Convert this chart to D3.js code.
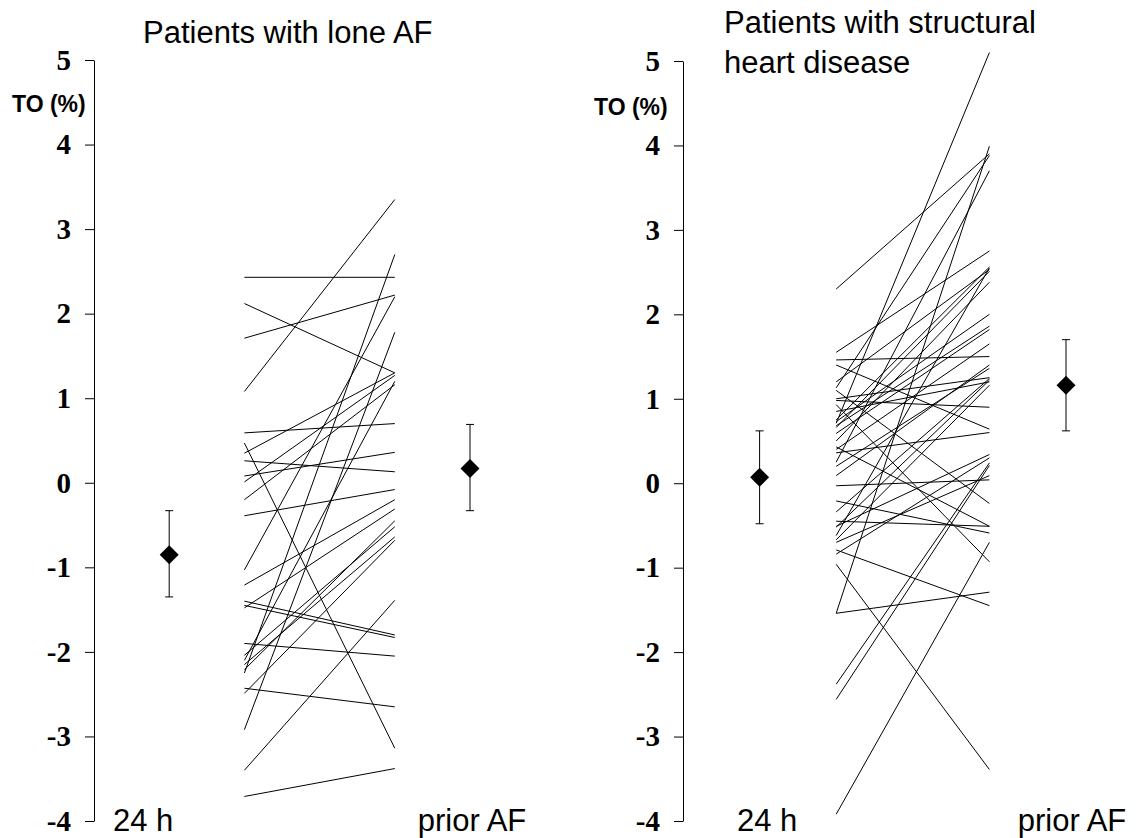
<!DOCTYPE html>
<html>
<head>
<meta charset="utf-8">
<script src="https://cdn.jsdelivr.net/npm/d3@7/dist/d3.min.js"></script>
<style>
  body { margin: 0; background: #fff; }
  svg { display: block; }
</style>
</head>
<body>
<div class="chart-container"></div>
<script>
(function(){
    // tick values of the TO axis
    const yTicks = [5, 4, 3, 2, 1, 0, -1, -2, -3, -4];
    const groupNames = ['24 h', 'prior AF'];

    // lone AF: each patient, TO at 24 h and TO prior AF
    const lone24h  = [2.43, 2.12, 1.71, 1.08, 0.59, 0.47, 0.35, 0.26, 0.08, 0.01, -0.20, -0.39, -1.03, -1.21,
                      -1.40, -1.45, -1.48, -1.90, -2.04, -2.10, -2.15, -2.21, -2.25, -2.43, -2.49, -2.92, -3.40, -3.71];
    const lonePrior = [2.43, 1.30, 2.22, 3.35, 0.70, -3.14, 1.30, 0.13, 0.36, 1.27, 1.16, -0.08, 2.20, -0.20,
                      -1.80, -1.83, -0.31, -2.05, -0.52, 1.20, -0.64, -0.45, 2.70, -2.65, -0.68, 1.78, -1.39, -3.38];
    const loneMean = [-0.85, 0.17];
    const loneLow  = [-1.35, -0.33];
    const loneHigh = [-0.33, 0.69];

    // structural heart disease
    const shd24h  = [2.30, 1.55, 1.46, 1.40, 1.20, 1.13, 1.10, 0.98, 0.93, 0.75, 0.73, 0.71, 0.68, 0.66,
                     0.59, 0.50, 0.43, 0.40, 0.36, 0.25, 0.20, 0.09, -0.03, -0.21, -0.34, -0.51, -0.52, -0.62,
                     -0.67, -0.70, -0.79, -0.84, -0.96, -1.54, -1.54, -2.38, -2.56, -3.92, 1.00, 0.85, -0.45];
    const shdPrior = [3.90, 2.75, 1.50, 0.64, 2.53, 3.88, -0.24, 0.90, -0.93, 2.56, 2.00, 5.10, 1.86, 2.51,
                     1.82, 2.38, -0.51, 1.65, 0.60, 3.70, 1.36, 1.40, 0.04, -0.59, 1.24, 0.34, 1.22, 2.55,
                     1.16, 0.09, -1.45, 0.30, -3.39, 3.99, -1.29, 0.24, 0.21, -0.70, 1.25, 1.20, -0.51];
    const shdMean = [0.07, 1.16];
    const shdLow  = [-0.48, 0.62];
    const shdHigh = [0.62, 1.70];

    const svg_width = 1144;
    const svg_height = 838;
    const sans = '"Liberation Sans", Arial, sans-serif';

    const panels = [
        {
            title: ['Patients with lone AF'], titleX: 143, titleY: [43],
            xRange: [94, 470], yRange: [821, 60], yLabelX: 12, yLabelY: 112,
            catX: [113, 472], catAnchor: ['start', 'middle'], catY: 831,
            start: lone24h, end: lonePrior, mean: loneMean, low: loneLow, high: loneHigh
        },
        {
            title: ['Patients with structural', 'heart disease'], titleX: 724, titleY: [33, 73],
            xRange: [683, 1066], yRange: [821, 61], yLabelX: 594, yLabelY: 115,
            catX: [737, 1072], catAnchor: ['start', 'middle'], catY: 831,
            start: shd24h, end: shdPrior, mean: shdMean, low: shdLow, high: shdHigh
        }
    ];

    const svg = d3.select('.chart-container').append('svg')
        .attr('width', svg_width).attr('height', svg_height);

    function drawPanel(p) {
        const g = svg.append('g');
        // x positions: 0 axis, 1 mean 24h, 2..4 paired lines, 5 mean prior AF
        const xScale = d3.scaleLinear().domain([0, 5]).range(p.xRange);
        const yScale = d3.scaleLinear().domain([-4, 5]).range(p.yRange);

        // y axis (plain hyphen for negatives, like the original)
        const yAxis = d3.axisLeft(yScale).tickValues(yTicks)
            .tickFormat(d => String(d))
            .tickSizeInner(9).tickSizeOuter(0).tickPadding(14);
        const axisG = g.append('g')
            .attr('transform', `translate(${xScale(0)},0)`)
            .call(yAxis);
        axisG.select('.domain').attr('stroke', '#000').attr('stroke-width', 1);
        axisG.selectAll('.tick line').attr('stroke', '#000');
        axisG.selectAll('.tick text')
            .style('font-family', '"Liberation Serif", "Times New Roman", serif')
            .style('font-weight', 'bold')
            .style('font-size', '29px')
            .attr('fill', '#000');

        g.append('text')
            .attr('x', p.yLabelX).attr('y', p.yLabelY)
            .text('TO (%)')
            .style('font-family', sans)
            .style('font-weight', 'bold')
            .style('font-size', '23px');

        // title
        const title = g.append('text')
            .style('font-family', sans)
            .style('font-size', '31px');
        p.title.forEach((t, i) => {
            title.append('tspan').attr('x', p.titleX).attr('y', p.titleY[i]).text(t);
        });

        // patient lines
        const pairs = p.start.map((s, i) => ({ s: s, e: p.end[i] }));
        g.append('g').selectAll('line').data(pairs).enter()
            .append('line')
            .attr('x1', xScale(2)).attr('x2', xScale(4))
            .attr('y1', d => yScale(d.s)).attr('y2', d => yScale(d.e))
            .attr('stroke', '#000').attr('stroke-width', 1);

        // mean +/- error bars
        const stats = p.mean.map((m, i) => ({ m: m, lo: p.low[i], hi: p.high[i], x: i === 0 ? 1 : 5 }));
        const sg = g.append('g').selectAll('g').data(stats).enter().append('g');
        sg.append('line')
            .attr('x1', d => xScale(d.x)).attr('x2', d => xScale(d.x))
            .attr('y1', d => yScale(d.lo)).attr('y2', d => yScale(d.hi))
            .attr('stroke', '#000');
        ['lo', 'hi'].forEach(k => {
            sg.append('line')
                .attr('x1', d => xScale(d.x) - 4).attr('x2', d => xScale(d.x) + 4)
                .attr('y1', d => yScale(d[k])).attr('y2', d => yScale(d[k]))
                .attr('stroke', '#000');
        });
        sg.append('path')
            .attr('d', d3.symbol().type(d3.symbolDiamond2).size(230))
            .attr('transform', d => `translate(${xScale(d.x)},${yScale(d.m)})`)
            .attr('fill', '#000');

        // group labels
        g.selectAll('.cat').data(groupNames).enter()
            .append('text')
            .attr('class', 'cat')
            .attr('x', (d, i) => p.catX[i]).attr('y', p.catY)
            .attr('text-anchor', (d, i) => p.catAnchor[i])
            .text(d => d)
            .style('font-family', sans)
            .style('font-size', '31px');
    }

    panels.forEach(drawPanel);
})();
</script>
</body>
</html>
